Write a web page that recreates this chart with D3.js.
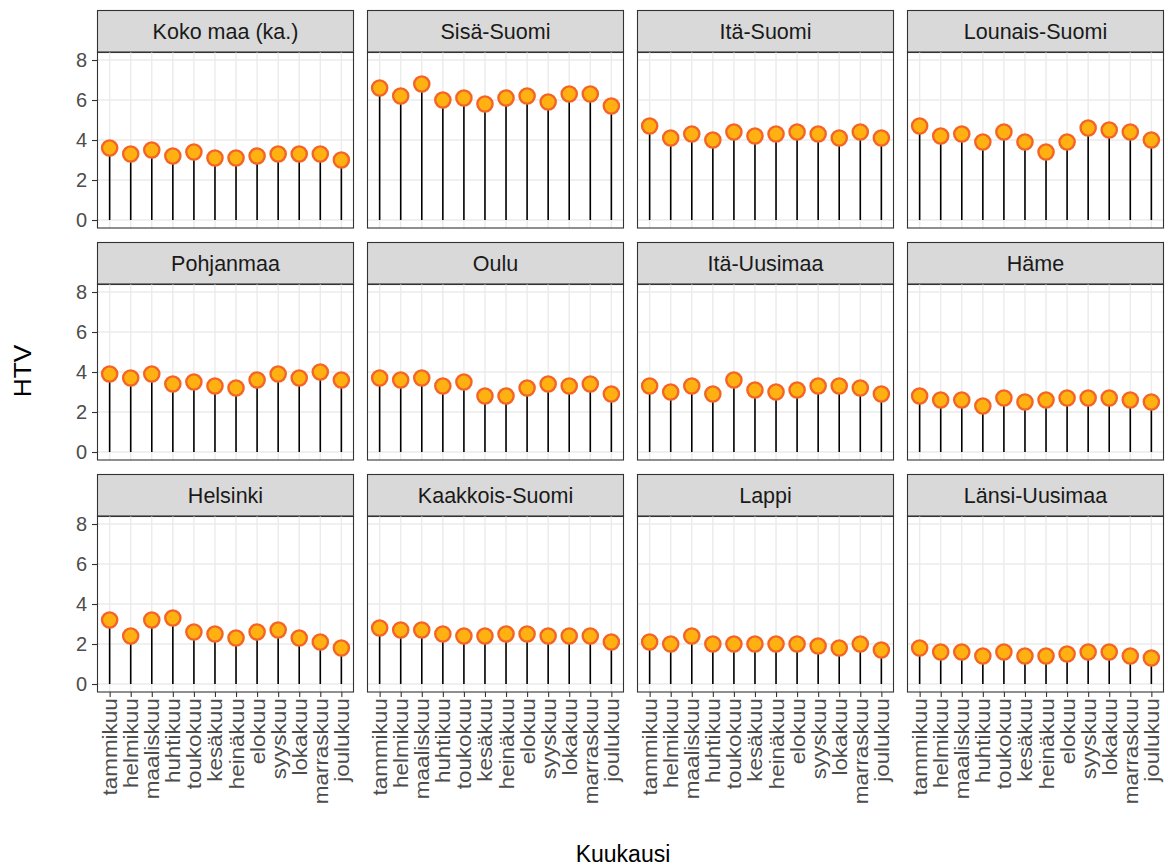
<!DOCTYPE html>
<html>
<head>
<meta charset="utf-8">
<script src="https://cdn.jsdelivr.net/npm/d3@7/dist/d3.min.js"></script>
<style>
  body { margin: 0; background: #fff; }
  svg { display: block; font-family: "Liberation Sans", Arial, Helvetica, sans-serif; }
</style>
</head>
<body>
<svg id="chart" width="1168" height="868"></svg>
<script>
// Kuukaudet (x-akselin luokat)
const kuukaudet = ["tammikuu", "helmikuu", "maaliskuu", "huhtikuu", "toukokuu", "kesäkuu",
                   "heinäkuu", "elokuu", "syyskuu", "lokakuu", "marraskuu", "joulukuu"];

// HTV-arvot alueittain, tammikuusta joulukuuhun
const kokoMaa       = [3.6, 3.3, 3.5, 3.2, 3.4, 3.1, 3.1, 3.2, 3.3, 3.3, 3.3, 3.0];
const sisaSuomi     = [6.6, 6.2, 6.8, 6.0, 6.1, 5.8, 6.1, 6.2, 5.9, 6.3, 6.3, 5.7];
const itaSuomi      = [4.7, 4.1, 4.3, 4.0, 4.4, 4.2, 4.3, 4.4, 4.3, 4.1, 4.4, 4.1];
const lounaisSuomi  = [4.7, 4.2, 4.3, 3.9, 4.4, 3.9, 3.4, 3.9, 4.6, 4.5, 4.4, 4.0];
const pohjanmaa     = [3.9, 3.7, 3.9, 3.4, 3.5, 3.3, 3.2, 3.6, 3.9, 3.7, 4.0, 3.6];
const oulu          = [3.7, 3.6, 3.7, 3.3, 3.5, 2.8, 2.8, 3.2, 3.4, 3.3, 3.4, 2.9];
const itaUusimaa    = [3.3, 3.0, 3.3, 2.9, 3.6, 3.1, 3.0, 3.1, 3.3, 3.3, 3.2, 2.9];
const hame          = [2.8, 2.6, 2.6, 2.3, 2.7, 2.5, 2.6, 2.7, 2.7, 2.7, 2.6, 2.5];
const helsinki      = [3.2, 2.4, 3.2, 3.3, 2.6, 2.5, 2.3, 2.6, 2.7, 2.3, 2.1, 1.8];
const kaakkoisSuomi = [2.8, 2.7, 2.7, 2.5, 2.4, 2.4, 2.5, 2.5, 2.4, 2.4, 2.4, 2.1];
const lappi         = [2.1, 2.0, 2.4, 2.0, 2.0, 2.0, 2.0, 2.0, 1.9, 1.8, 2.0, 1.7];
const lansiUusimaa  = [1.8, 1.6, 1.6, 1.4, 1.6, 1.4, 1.4, 1.5, 1.6, 1.6, 1.4, 1.3];

const alueet = ["Koko maa (ka.)", "Sisä-Suomi", "Itä-Suomi", "Lounais-Suomi",
                "Pohjanmaa", "Oulu", "Itä-Uusimaa", "Häme",
                "Helsinki", "Kaakkois-Suomi", "Lappi", "Länsi-Uusimaa"];
const arvot = [kokoMaa, sisaSuomi, itaSuomi, lounaisSuomi,
               pohjanmaa, oulu, itaUusimaa, hame,
               helsinki, kaakkoisSuomi, lappi, lansiUusimaa];

const yTicks = [0, 2, 4, 6, 8];
const yLimits = [0, 8];

// Paneelien asettelu
const cols = 4, rows = 3;
const gridLeft = 97, gridTop = 10;
const panelW = 257, colGap = 13;
const stripH = 42, panelH = 176, rowPitch = 232;

const svg = d3.select("#chart");

// Diskreetti x-asteikko, 0.6 yksikön laajennus kummallekin puolelle
const expandX = 0.6 * panelW / (kuukaudet.length - 1 + 1.2);
const x = d3.scalePoint().domain(kuukaudet).range([expandX, panelW - expandX]);

const span = yLimits[1] - yLimits[0];
const y = d3.scaleLinear()
  .domain([yLimits[0] - 0.05 * span, yLimits[1] + 0.05 * span])
  .range([panelH, 0]);

alueet.forEach((nimi, i) => {
  const c = i % cols, r = Math.floor(i / cols);
  const px = gridLeft + c * (panelW + colGap);
  const py = gridTop + r * rowPitch;
  const data = kuukaudet.map((k, j) => ({ kuukausi: k, htv: arvot[i][j] }));

  const g = svg.append("g").attr("transform", `translate(${px},${py})`);

  // Otsikkokaistale
  g.append("rect")
    .attr("x", 0.5).attr("y", 0.5)
    .attr("width", panelW - 1).attr("height", stripH)
    .attr("fill", "#d9d9d9").attr("stroke", "#333333").attr("stroke-width", 1.1);
  g.append("text")
    .attr("x", panelW / 2).attr("y", stripH / 2)
    .attr("dy", "0.36em")
    .attr("text-anchor", "middle")
    .attr("fill", "#1a1a1a")
    .style("font-size", "21.5px")
    .text(nimi);

  const p = g.append("g").attr("transform", `translate(0,${stripH})`);

  // Ruudukko
  p.append("g").selectAll("line").data(yTicks).join("line")
    .attr("x1", 0).attr("x2", panelW)
    .attr("y1", d => y(d)).attr("y2", d => y(d))
    .attr("stroke", "#ebebeb").attr("stroke-width", 1.4);
  p.append("g").selectAll("line").data(kuukaudet).join("line")
    .attr("x1", d => x(d)).attr("x2", d => x(d))
    .attr("y1", 0).attr("y2", panelH)
    .attr("stroke", "#ebebeb").attr("stroke-width", 1.4);

  // Varret
  p.append("g").selectAll("line").data(data).join("line")
    .attr("x1", d => x(d.kuukausi)).attr("x2", d => x(d.kuukausi))
    .attr("y1", y(0)).attr("y2", d => y(d.htv))
    .attr("stroke", "#000").attr("stroke-width", 1.6);

  // Pisteet
  p.append("g").selectAll("circle").data(data).join("circle")
    .attr("cx", d => x(d.kuukausi)).attr("cy", d => y(d.htv))
    .attr("r", 7.6)
    .attr("fill", "#ffb112").attr("stroke", "#f46426").attr("stroke-width", 2.4);

  // Paneelin reunus
  p.append("rect")
    .attr("x", 0.5).attr("y", 0)
    .attr("width", panelW - 1).attr("height", panelH)
    .attr("fill", "none").attr("stroke", "#333333").attr("stroke-width", 1.1);

  // Y-akseli vasemmassa sarakkeessa
  if (c === 0) {
    const ay = p.append("g").call(d3.axisLeft(y).tickValues(yTicks).tickSize(5).tickPadding(5));
    ay.select(".domain").remove();
    ay.selectAll(".tick line").attr("stroke", "#333333").attr("stroke-width", 1.1);
    ay.selectAll(".tick text").attr("fill", "#4d4d4d").style("font-size", "20px");
  }

  // X-akseli alimmalla rivillä: pystysuorat, hieman venytetyt kuukausinimet
  if (r === rows - 1) {
    const ax = p.append("g").attr("transform", `translate(0,${panelH})`)
      .call(d3.axisBottom(x).tickSize(5).tickPadding(3));
    ax.select(".domain").remove();
    ax.selectAll(".tick line").attr("stroke", "#333333").attr("stroke-width", 1.1);
    ax.selectAll(".tick text")
      .attr("fill", "#4d4d4d").style("font-size", "19.5px")
      .attr("transform", "rotate(-90) scale(1.15,1)")
      .attr("x", -5.5).attr("y", 0).attr("dy", "0.36em")
      .attr("text-anchor", "end");
  }
});

// Akselien otsikot
svg.append("text")
  .attr("transform", "translate(31,371) rotate(-90) scale(1.12,1)")
  .attr("text-anchor", "middle")
  .attr("fill", "#000")
  .style("font-size", "23.5px")
  .text("HTV");

svg.append("text")
  .attr("x", 623).attr("y", 862)
  .attr("text-anchor", "middle")
  .attr("fill", "#000")
  .style("font-size", "23px")
  .text("Kuukausi");
</script>
</body>
</html>
